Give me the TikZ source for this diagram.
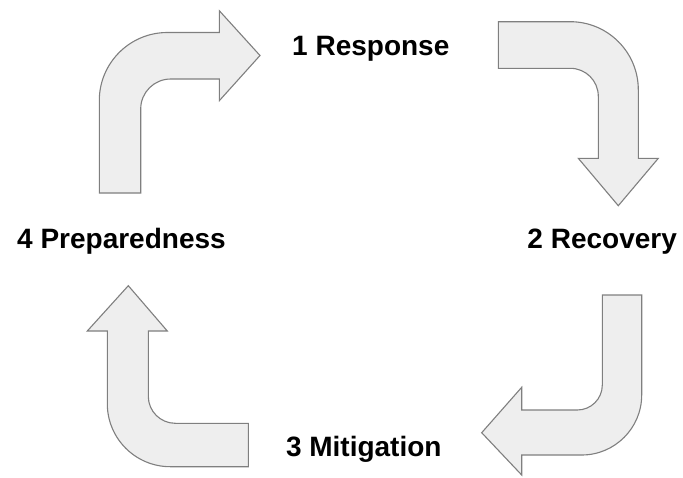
\documentclass[tikz,border=0pt]{standalone}
\usepackage{fontspec}
\setmainfont{Liberation Sans}
\definecolor{arrowfill}{HTML}{EEEEEE}
\definecolor{arrowline}{HTML}{7F7F7F}
\tikzset{
  bentarrow/.style={fill=arrowfill, draw=arrowline, line width=1.1pt, line join=miter},
  phase/.style={inner sep=0pt, anchor=base, font=\fontsize{28}{30}\selectfont\bfseries}
}
\begin{document}
\begin{tikzpicture}[x=1pt,y=-1pt]
\path[use as bounding box] (0,0) rectangle (683,477);
% arrow 1 (top-left)
\draw[bentarrow] (99.3,193) -- (99.3,100.5) .. controls (99.3,63) and (129.8,32.5) .. (167.3,32.5)
  -- (219.3,32.5) -- (219.3,10.7) -- (260,55.5) -- (219.3,100.7) -- (219.3,79) -- (170.7,79)
  .. controls (154.1,79) and (140.7,92.4) .. (140.7,109) -- (140.7,193) -- cycle;
% arrow 2 (top-right)
\draw[bentarrow] (498.3,21.7) -- (570.3,21.7) .. controls (607.8,21.7) and (638.3,52.2) .. (638.3,89.7)
  -- (638.3,158.3) -- (658.3,158.3) -- (618.3,205.7) -- (578.3,158.3) -- (598.3,158.3) -- (598.3,96.3)
  .. controls (598.3,80.8) and (585.8,68.3) .. (570.3,68.3) -- (498.3,68.3) -- cycle;
% arrow 3 (bottom-right)
\draw[bentarrow] (602.3,295) -- (641.7,295) -- (641.7,395) .. controls (641.7,428.1) and (614.8,455) .. (581.7,455)
  -- (521.7,455) -- (521.7,475) -- (481.7,432.7) -- (521.7,387.3) -- (521.7,410) -- (577.3,410)
  .. controls (591.1,410) and (602.3,398.8) .. (602.3,385) -- cycle;
% arrow 4 (bottom-left)
\draw[bentarrow] (248.3,423.3) -- (248.3,466.7) -- (170.3,466.7) .. controls (135.5,466.7) and (107.3,438.5) .. (107.3,403.7)
  -- (107.3,331) -- (87.3,331) -- (128.3,285.7) -- (167.3,331) -- (148.3,331) -- (148.3,396.3)
  .. controls (148.3,411.2) and (160.4,423.3) .. (175.3,423.3) -- cycle;
% labels
\node[phase] (response) at (370.8,55) {1 Response};
\node[phase] (recovery) at (602.2,248.3) {2 Recovery};
\node[phase] (mitigation) at (363.8,456.7) {3 Mitigation};
\node[phase] (preparedness) at (121.5,248.3) {4 Preparedness};
\end{tikzpicture}
\end{document}
